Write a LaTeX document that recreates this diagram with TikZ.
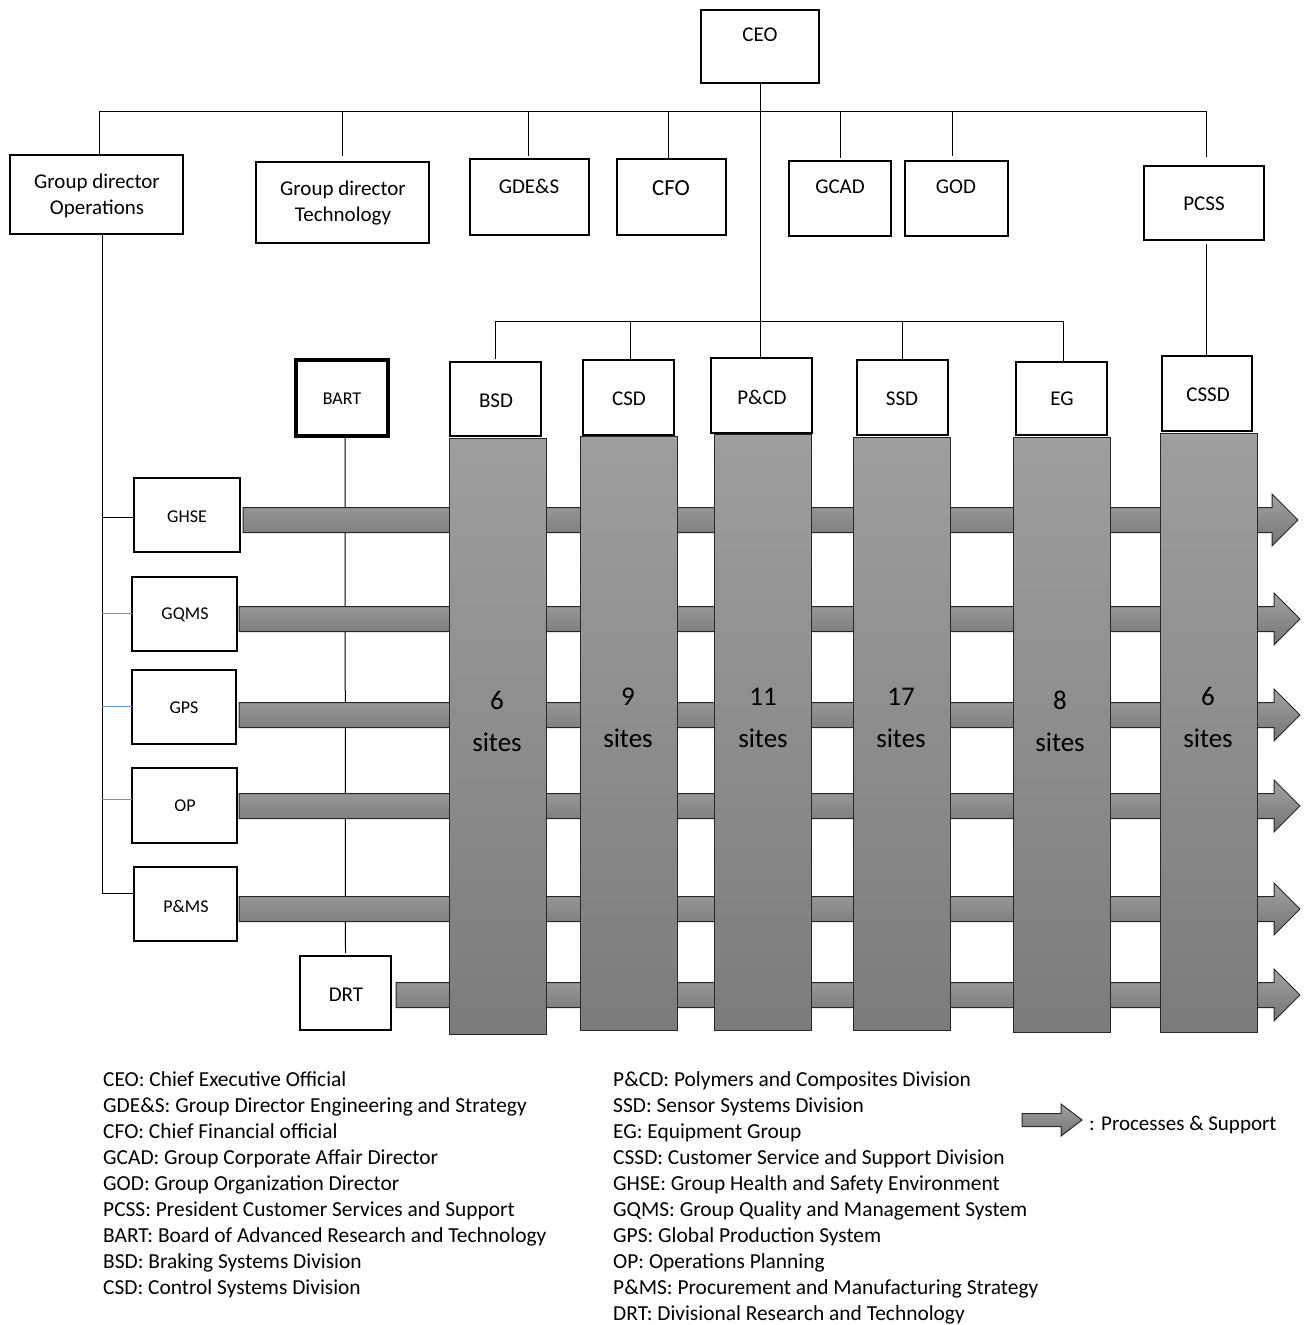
\documentclass[tikz,border=0pt]{standalone}
\usepackage{fontspec}
\setmainfont{Carlito}
\definecolor{colTop}{RGB}{158,158,158}
\definecolor{colBot}{RGB}{124,124,124}
\definecolor{arrTop}{RGB}{162,162,162}
\definecolor{arrBot}{RGB}{116,116,116}
\definecolor{edge}{RGB}{40,40,40}
\definecolor{linkblue}{RGB}{91,155,213}
% rectangular node given by its corners: style, name, x1, y1, x2, y2
\newcommand\orgbox[6]{%
  \node[#1, minimum width={#5-#3}, minimum height={#6-#4}] (#2) at (#3,#4) {};}
% horizontal process arrow: start x, centre y, tip x
\newcommand\flowarrow[3]{%
  \draw[flow] (#1,#2-12.5) -- (#3-26,#2-12.5) -- (#3-26,#2-26) -- (#3,#2)
    -- (#3-26,#2+26) -- (#3-26,#2+12.5) -- (#1,#2+12.5) -- cycle;}
\begin{document}
\begin{tikzpicture}[x=1pt,y=-1pt,
  box/.style={draw=black, line width=2pt, fill=white, anchor=north west, inner sep=0pt, outer sep=0pt},
  boldbox/.style={box, line width=3.5pt},
  txt/.style={font=\fontsize{21}{26}\selectfont, align=center, inner sep=0pt},
  bigtxt/.style={font=\fontsize{23}{28}\selectfont, inner sep=0pt},
  smalltxt/.style={font=\fontsize{18}{22}\selectfont, inner sep=0pt},
  link/.style={draw=black, line width=1pt},
  bluelink/.style={draw=linkblue, line width=1pt},
  column/.style={draw=edge, line width=1pt, top color=colTop, bottom color=colBot, anchor=north west, inner sep=0pt},
  flow/.style={draw=edge, line width=1pt, top color=arrTop, bottom color=arrBot},
  sitetxt/.style={font=\fontsize{27}{42}\selectfont, align=center, inner sep=0pt},
  legend/.style={font=\fontsize{21.4}{26.1}\selectfont, align=left, anchor=north west, inner sep=0pt}
]
\useasboundingbox (0,0) rectangle (1308,1325);
\fill[white] (0,0) rectangle (1308,1325);

% ---------- top level ----------
\orgbox{box}{ceo}{701}{10}{819}{83}
\orgbox{box}{gdo}{10}{155}{183}{234}
\orgbox{box}{gdt}{256}{162}{429}{243}
\orgbox{box}{gdes}{470}{159}{589}{235}
\orgbox{box}{cfo}{617}{159}{726}{235}
\orgbox{box}{gcad}{789}{161}{891}{236}
\orgbox{box}{god}{905}{161}{1008}{236}
\orgbox{box}{pcss}{1144}{166}{1264}{240}

% ---------- group functions ----------
\orgbox{boldbox}{bart}{296}{360}{388}{436}
\orgbox{box}{ghse}{134}{478}{240}{552}
\orgbox{box}{gqms}{132}{577}{237}{651}
\orgbox{box}{gps}{132}{670}{236}{744}
\orgbox{box}{op}{132}{768}{237}{843}
\orgbox{box}{pms}{134}{867}{237}{941}
\orgbox{box}{drt}{300}{956}{391}{1030}

% ---------- divisions ----------
\orgbox{box}{bsd}{450}{362}{541}{436}
\orgbox{box}{csd}{583}{360}{674}{435}
\orgbox{box}{pcd}{711}{358}{812}{433}
\orgbox{box}{ssd}{857}{360}{948}{435}
\orgbox{box}{eg}{1016}{362}{1107}{435}
\orgbox{box}{cssd}{1162}{356}{1252}{431}

% ---------- connectors ----------
\coordinate (bus) at (0,111);
\coordinate (divbus) at (0,321);
\coordinate (spine) at (102,0);
\draw[link] ([xshift=2.5pt]gdo.north |- bus) -- ([xshift=2pt]pcss.north |- bus);
\draw[link] (ceo.south) -- (ceo.south |- pcd.north);
\draw[link] ([xshift=2.5pt]gdo.north |- bus) -- ([xshift=2.5pt]gdo.north);
\draw[link] (gdt.north |- bus) -- ([yshift=6pt]gdt.north);
\draw[link] ([xshift=-1.5pt]gdes.north |- bus) -- ([xshift=-1.5pt,yshift=3pt]gdes.north);
\draw[link] ([xshift=-3.5pt]cfo.north |- bus) -- ([xshift=-3.5pt,yshift=1pt]cfo.north);
\draw[link] (gcad.north |- bus) -- ([yshift=3pt]gcad.north);
\draw[link] ([xshift=-4.5pt]god.north |- bus) -- ([xshift=-4.5pt,yshift=5pt]god.north);
\draw[link] ([xshift=2pt]pcss.north |- bus) -- ([xshift=2pt,yshift=9pt]pcss.north);
\draw[link] (bsd.north |- divbus) -- ([xshift=2pt]eg.north |- divbus);
\draw[link] (bsd.north |- divbus) -- ([yshift=3pt]bsd.north);
\draw[link] ([xshift=1.5pt]csd.north |- divbus) -- ([xshift=1.5pt]csd.north);
\draw[link] (ssd.north |- divbus) -- (ssd.north);
\draw[link] ([xshift=2pt]eg.north |- divbus) -- ([xshift=2pt]eg.north);
\draw[link] ([xshift=-1pt,yshift=-4pt]pcss.south -| cssd.north) -- ([xshift=-1pt]cssd.north);
\draw[link] (gdt.south) -- (gdt.south -| bart.north);
\draw[link] ([xshift=3pt]bart.south) -- ([yshift=3pt]drt.north);
\draw[link] (gdo.south -| spine) -- (spine |- 0,893);
\draw[link] (spine |- 0,517) -- (ghse.west |- 0,517);
\draw[bluelink] (spine |- 0,613) -- (gqms.west |- 0,613);
\draw[bluelink] (spine |- 0,706) -- (gps.west |- 0,706);
\draw[bluelink] (spine |- 0,799) -- (op.west |- 0,799);
\draw[link] (spine |- 0,893) -- (pms.west |- 0,893);

% ---------- process arrows ----------
\flowarrow{243}{520}{1298}
\flowarrow{239}{619}{1300}
\flowarrow{239}{715}{1300}
\flowarrow{239}{806}{1300}
\flowarrow{239}{909}{1300}
\flowarrow{396}{995}{1300}

% ---------- division columns ----------
\orgbox{column}{bsdcol}{449}{438}{546}{1034}
\orgbox{column}{csdcol}{580}{436}{677}{1030}
\orgbox{column}{pcdcol}{714}{434}{811}{1030}
\orgbox{column}{ssdcol}{853}{437}{950}{1030}
\orgbox{column}{egcol}{1013}{437}{1110}{1032}
\orgbox{column}{cssdcol}{1160}{433}{1257}{1032}

\node[sitetxt] (bsdsites) at (497,721) {6\\sites};
\node[sitetxt] (csdsites) at (628,718) {9\\sites};
\node[sitetxt] (pcdsites) at (763,718) {11\\sites};
\node[sitetxt] (ssdsites) at (901,718) {17\\sites};
\node[sitetxt] (egsites) at (1060,721) {8\\sites};
\node[sitetxt] (cssdsites) at (1208,717) {6\\sites};

% ---------- box labels ----------
\node[txt] (ceo-t) at (760,35) {CEO};
\node[txt] (gdo-t) at (97,196) {Group director\\Operations};
\node[txt] (gdt-t) at (343,203) {Group director\\Technology};
\node[txt] (gdes-t) at (529,186) {GDE\&S};
\node[bigtxt] (cfo-t) at (671,188) {CFO};
\node[txt] (gcad-t) at (840,187) {GCAD};
\node[txt] (god-t) at (956,187) {GOD};
\node[txt] (pcss-t) at (1204,204) {PCSS};
\node[smalltxt] (bart-t) at (342,399) {BART};
\node[txt] (bsd-t) at (496,401) {BSD};
\node[txt] (csd-t) at (629,399) {CSD};
\node[txt] (pcd-t) at (762,397) {P\&CD};
\node[txt] (ssd-t) at (902,399) {SSD};
\node[txt] (eg-t) at (1062,399) {EG};
\node[txt] (cssd-t) at (1208,395) {CSSD};
\node[smalltxt] (ghse-t) at (187,517) {GHSE};
\node[smalltxt] (gqms-t) at (185,615) {GQMS};
\node[smalltxt] (gps-t) at (184,708) {GPS};
\node[smalltxt] (op-t) at (185,806) {OP};
\node[smalltxt] (pms-t) at (186,906) {P\&MS};
\node[txt] (drt-t) at (346,995) {DRT};

% ---------- legend ----------
\node[legend] (legleft) at (103,1071) {CEO: Chief Executive Official\\
GDE\&S: Group Director Engineering and Strategy\\
CFO: Chief Financial official\\
GCAD: Group Corporate Affair Director\\
GOD: Group Organization Director\\
PCSS: President Customer Services and Support\\
BART: Board of Advanced Research and Technology\\
BSD: Braking Systems Division\\
CSD: Control Systems Division};
\node[legend] (legright) at (613,1071) {P\&CD: Polymers and Composites Division\\
SSD: Sensor Systems Division\\
EG: Equipment Group\\
CSSD: Customer Service and Support Division\\
GHSE: Group Health and Safety Environment\\
GQMS: Group Quality and Management System\\
GPS: Global Production System\\
OP: Operations Planning\\
P\&MS: Procurement and Manufacturing Strategy\\
DRT: Divisional Research and Technology};
\draw[flow] (1022,1113.5) -- (1061,1113.5) -- (1061,1104) -- (1082,1120)
  -- (1061,1136) -- (1061,1126.5) -- (1022,1126.5) -- cycle;
\node[txt, anchor=west] (legarrow-t) at (1089,1125) {: Processes \& Support};
\end{tikzpicture}
\end{document}
